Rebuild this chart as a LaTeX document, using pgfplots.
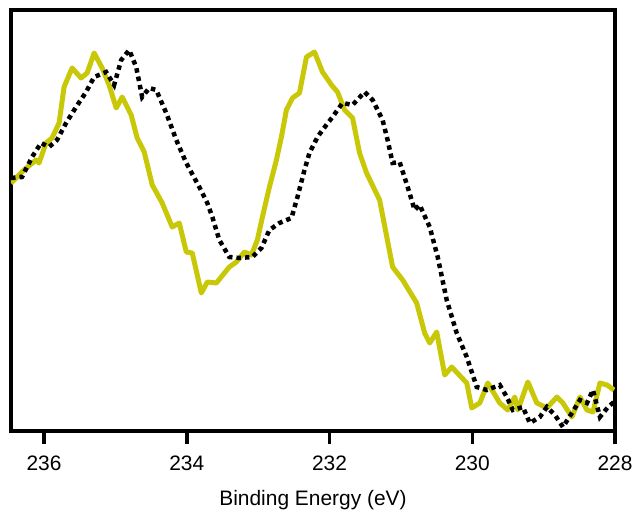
\documentclass[border=0pt]{standalone}
\usepackage{pgfplots}
\pgfplotsset{compat=1.18}
\usepackage{fontspec}
\setmainfont{Liberation Sans}
\definecolor{olivey}{RGB}{200,200,8}
\begin{document}
\begin{tikzpicture}
\path[use as bounding box] (-11bp,-85bp) rectangle (623bp,431bp);
\begin{axis}[
  scale only axis,
  width=604bp, height=421bp,
  x dir=reverse,
  xmin=228, xmax=236.463,
  ymin=0, ymax=421,
  xtick={228,230,232,234,236},
  ytick=\empty,
  xtick pos=bottom,
  xtick align=outside,
  major tick length=13bp,
  tick style={line width=3.5bp, black},
  axis line style={line width=3.5bp},
  /pgf/number format/assume math mode=true,
  /pgf/number format/1000 sep={},
  xticklabel style={font=\fontsize{21}{25}\selectfont, anchor=center, yshift=-19bp},
  xlabel={Binding Energy (eV)},
  xlabel style={font=\fontsize{21}{25}\selectfont, at={(axis description cs:0.5,0)}, anchor=center, yshift=-69bp},
  clip=true,
]
\addplot[olivey, line width=5bp, line join=round] coordinates {
(236.463,248) (236.281,261) (236.112,271) (236.070,268) (235.972,288) (235.888,293)
(235.789,308) (235.719,344) (235.607,363) (235.481,353) (235.396,358) (235.298,378)
(235.186,363) (235.088,346) (234.989,323) (234.905,334) (234.779,316) (234.695,293)
(234.596,279) (234.484,246) (234.344,228) (234.204,204) (234.105,208) (234.007,179)
(233.923,178) (233.796,138) (233.712,149) (233.586,148) (233.404,164) (233.305,169)
(233.193,179) (233.095,176) (233.011,191) (232.940,214) (232.842,244) (232.744,271)
(232.674,294) (232.604,321) (232.519,333) (232.421,338) (232.323,374) (232.211,379)
(232.098,359) (231.972,346) (231.888,339) (231.789,321) (231.677,313) (231.579,278)
(231.481,258) (231.298,231) (231.116,164) (230.975,151) (230.779,128) (230.667,98)
(230.596,88) (230.498,99) (230.386,56) (230.288,64) (230.077,48) (230.007,23)
(229.895,28) (229.782,48) (229.614,28) (229.502,21) (229.404,34) (229.361,21)
(229.221,49) (229.095,28) (228.954,23) (228.814,34) (228.730,28) (228.604,14)
(228.491,34) (228.393,21) (228.309,19) (228.211,48) (228.112,46) (228.014,41)
};
\addplot[black, line width=4.5bp, dash pattern=on 4.5bp off 4bp] coordinates {
(236.463,253) (236.309,254) (236.168,274) (236.042,288) (235.930,284) (235.818,291)
(235.691,308) (235.551,324) (235.411,339) (235.298,354) (235.130,359) (235.018,346)
(234.919,371) (234.807,381) (234.709,364) (234.625,334) (234.526,343) (234.428,341)
(234.288,318) (234.147,291) (234.007,268) (233.825,244) (233.712,228) (233.642,214)
(233.544,191) (233.404,174) (233.263,173) (233.081,174) (232.954,183) (232.842,201)
(232.702,208) (232.533,213) (232.449,234) (232.351,261) (232.281,278) (232.168,294)
(232.098,301) (231.958,314) (231.818,328) (231.677,326) (231.509,339) (231.396,331)
(231.256,311) (231.186,291) (231.116,268) (231.018,269) (230.905,244) (230.807,221)
(230.737,226) (230.596,204) (230.484,174) (230.358,131) (230.218,98) (230.077,74)
(229.937,44) (229.796,41) (229.614,46) (229.516,34) (229.432,21) (229.291,24)
(229.193,8) (229.053,14) (228.954,24) (228.842,16) (228.730,4) (228.604,18)
(228.491,31) (228.393,28) (228.309,41) (228.211,14) (228.098,24) (228.014,29)
};
\end{axis}
\end{tikzpicture}
\end{document}
